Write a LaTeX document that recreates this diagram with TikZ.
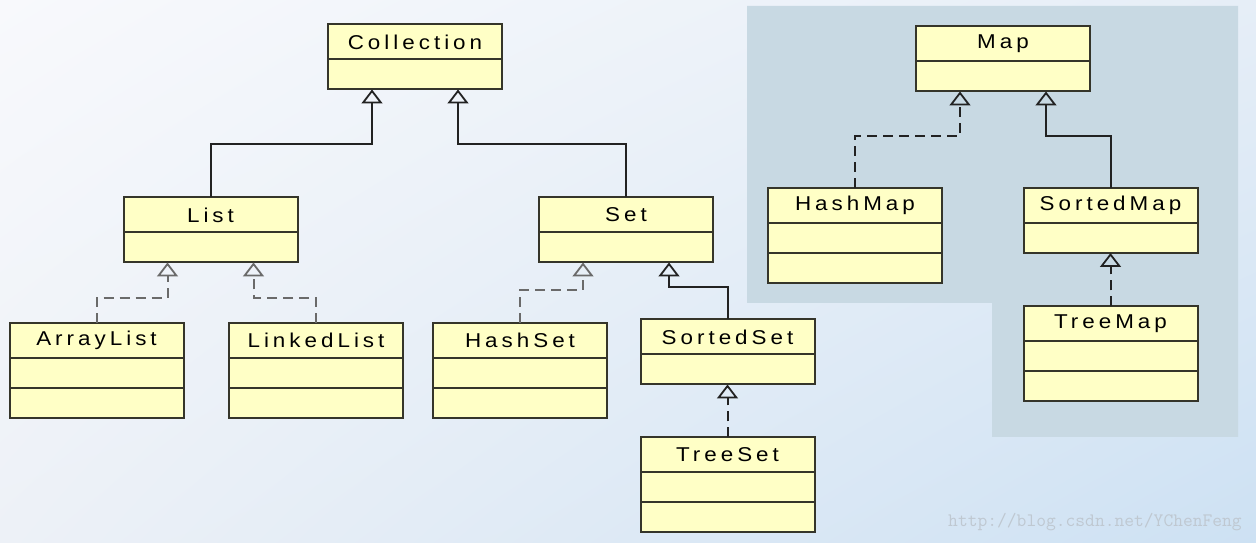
\documentclass[tikz,border=0pt]{standalone}
\usepackage{fontspec}
\newfontfamily\umlfont[LetterSpace=20,FakeStretch=1.12]{Liberation Sans}
\usetikzlibrary{positioning,arrows.meta,shadings}
\definecolor{boxfill}{HTML}{FFFFC6}
\definecolor{boxline}{HTML}{35352A}
\definecolor{mapbg}{HTML}{C8D9E3}
\definecolor{linkgray}{HTML}{6A6A6A}
\definecolor{linkdark}{HTML}{222222}
\definecolor{wmark}{HTML}{BFC8D1}
\definecolor{bgul}{HTML}{F8F9FC}
\definecolor{bgur}{HTML}{E6EEF7}
\definecolor{bgll}{HTML}{EDF1F7}
\definecolor{bglr}{HTML}{CDE1F3}
\tikzset{
  head/.style={
    draw=boxline, fill=boxfill, line width=2pt,
    minimum width=174pt, minimum height=35pt,
    inner sep=0pt, outer sep=0pt,
    font=\umlfont\fontsize{20}{22}\selectfont
  },
  comp/.style={
    draw=boxline, fill=boxfill, line width=2pt,
    minimum width=174pt, minimum height=30pt,
    inner sep=0pt, outer sep=0pt
  },
  extends/.style={
    draw=linkdark, line width=2pt,
    -{Triangle[open,length=14pt,width=21pt,line width=1.8pt]}
  },
  realizes/.style={extends, dash pattern=on 10pt off 6pt}
}

\begin{document}
\begin{tikzpicture}[x=1pt,y=1pt]
\useasboundingbox (0,0) rectangle (1256,543);
\shade[upper left=bgul, upper right=bgur,
       lower left=bgll, lower right=bglr] (0,0) rectangle (1256,543);
% map area
\fill[mapbg] (747,537) -- (1238,537) -- (1238,106) -- (992,106)
   -- (992,240) -- (747,240) -- cycle;

% Collection side
\node[head] (collection) at (415,501) {Collection};
\node[comp,below=0pt of collection] (collection-1) {};

\node[head] (list) at (210.5,328) {List};
\node[comp,below=0pt of list] (list-1) {};

\node[head] (set) at (626,328) {Set};
\node[comp,below=0pt of set] (set-1) {};

\node[head] (arraylist) at (96.5,202.5) {ArrayList};
\node[comp,below=0pt of arraylist] (arraylist-1) {};
\node[comp,below=0pt of arraylist-1] (arraylist-2) {};

\node[head] (linkedlist) at (316,202.5) {LinkedList};
\node[comp,below=0pt of linkedlist] (linkedlist-1) {};
\node[comp,below=0pt of linkedlist-1] (linkedlist-2) {};

\node[head] (hashset) at (520,202.5) {HashSet};
\node[comp,below=0pt of hashset] (hashset-1) {};
\node[comp,below=0pt of hashset-1] (hashset-2) {};

\node[head] (sortedset) at (727.5,206) {SortedSet};
\node[comp,below=0pt of sortedset] (sortedset-1) {};

\node[head] (treeset) at (727.5,88) {TreeSet};
\node[comp,below=0pt of treeset] (treeset-1) {};
\node[comp,below=0pt of treeset-1] (treeset-2) {};

% Map side
\node[head] (map) at (1003,499) {Map};
\node[comp,below=0pt of map] (map-1) {};

\node[head] (hashmap) at (855,337.5) {HashMap};
\node[comp,below=0pt of hashmap] (hashmap-1) {};
\node[comp,below=0pt of hashmap-1] (hashmap-2) {};

\node[head] (sortedmap) at (1110.5,337.5) {SortedMap};
\node[comp,below=0pt of sortedmap] (sortedmap-1) {};

\node[head] (treemap) at (1110.5,219) {TreeMap};
\node[comp,below=0pt of treemap] (treemap-1) {};
\node[comp,below=0pt of treemap-1] (treemap-2) {};

% connectors
\draw[extends] (list.north) -- ++(0,53) -| ([xshift=-43pt]collection-1.south);
\draw[extends] (set.north) -- ++(0,53) -| ([xshift=43pt]collection-1.south);

\draw[realizes,draw=linkgray] (arraylist.north) -- ++(0,25) -| ([xshift=-43pt]list-1.south);
\draw[realizes,draw=linkgray] (linkedlist.north) -- ++(0,25) -| ([xshift=43pt]list-1.south);

\draw[realizes,draw=linkgray] (hashset.north) -- ++(0,33) -| ([xshift=-43pt]set-1.south);
\draw[extends] (sortedset.north) -- ++(0,32) -| ([xshift=43pt]set-1.south);
\draw[realizes] (treeset.north) -- (sortedset-1.south);

\draw[realizes] (hashmap.north) -- ++(0,52) -| ([xshift=-43pt]map-1.south);
\draw[extends] (sortedmap.north) -- ++(0,52) -| ([xshift=43pt]map-1.south);
\draw[realizes] (treemap.north) -- (sortedmap-1.south);

\node[text=wmark,font=\ttfamily\fontsize{19}{20}\selectfont] (watermark) at (1095,21)
  {http://blog.csdn.net/YChenFeng};
\end{tikzpicture}
\end{document}
